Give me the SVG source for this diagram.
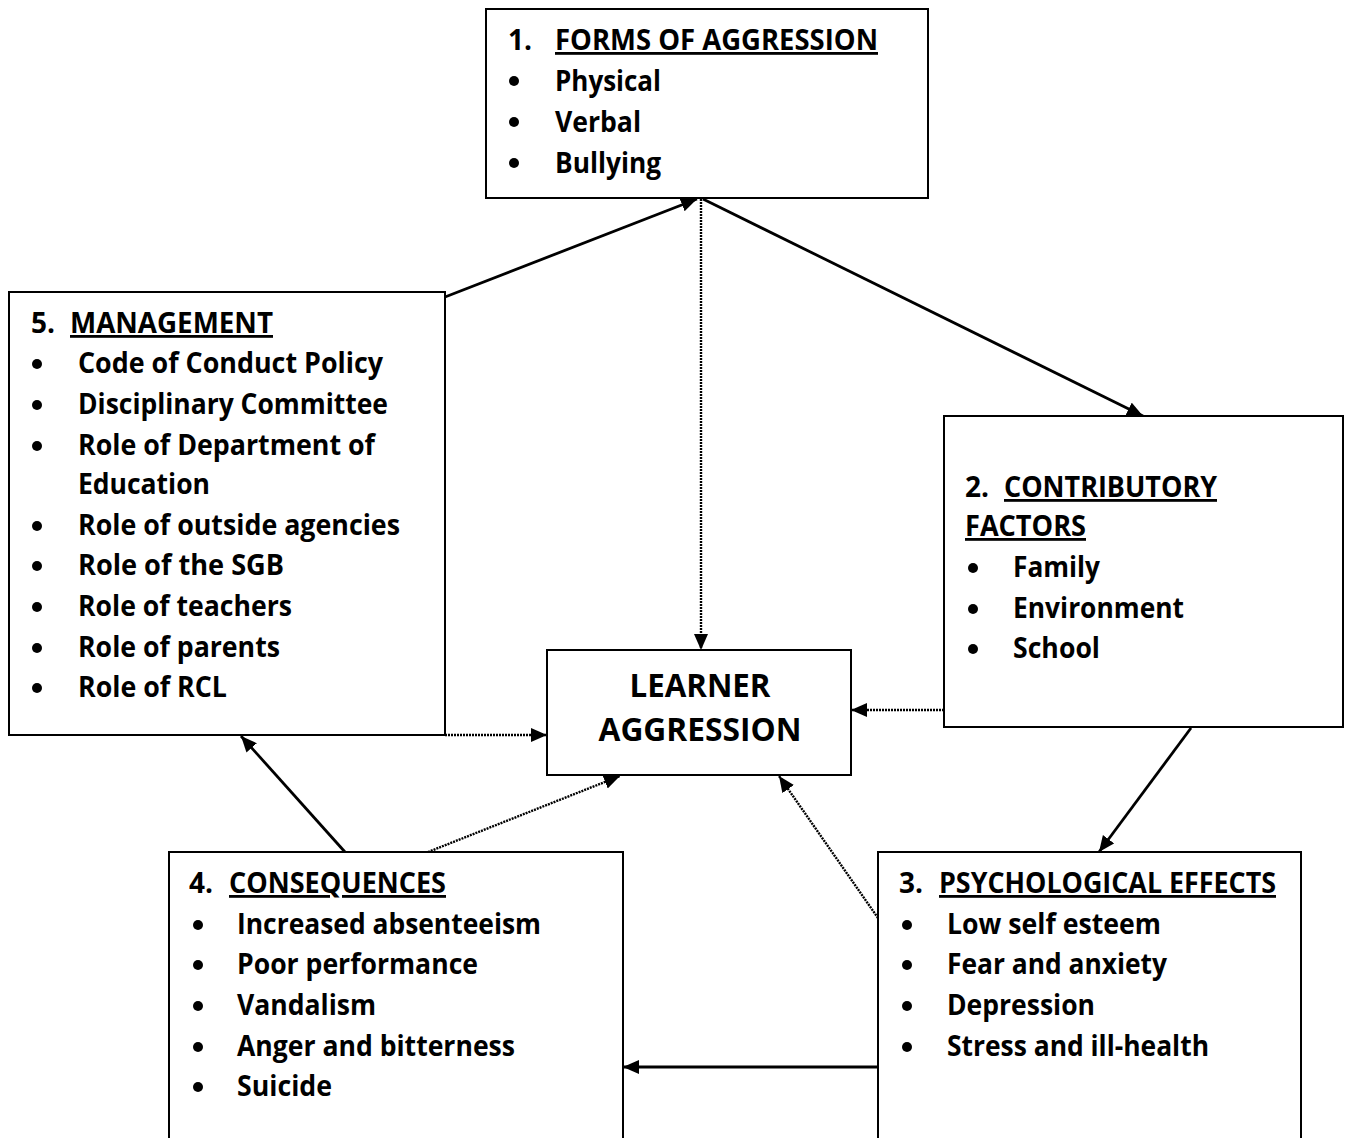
<svg xmlns="http://www.w3.org/2000/svg" width="1351" height="1138" viewBox="0 0 1351 1138">
<style>
  .box{fill:#fff;stroke:#000;stroke-width:2}
  .t{font-family:"Open Sans",Lato,sans-serif;font-weight:bold;font-size:28px;fill:#000}
  .c{font-family:"Open Sans",Lato,sans-serif;font-weight:bold;font-size:32px;fill:#000;text-anchor:middle}
  .u{text-decoration:underline}
  .b{fill:#000}
  .sol{fill:none;stroke:#000;stroke-width:2.8;marker-end:url(#ah)}
  .dot{fill:none;stroke:#000;stroke-width:2.4;stroke-dasharray:2 1;marker-end:url(#ah)}
</style>
<defs>
  <marker id="ah" markerUnits="userSpaceOnUse" markerWidth="18" markerHeight="16" refX="16" refY="7" orient="auto">
    <path d="M0,0 L16,7 L0,14 z" fill="#000"/>
  </marker>
</defs>
<rect width="1351" height="1138" fill="#fff"/>

<g id="connectors">
  <line class="sol" x1="445" y1="297" x2="697" y2="199"/>
  <line class="dot" x1="701" y1="199" x2="701" y2="650"/>
  <line class="sol" x1="703" y1="199" x2="1143" y2="416"/>
  <line class="dot" x1="944" y1="710" x2="851" y2="710"/>
  <line class="sol" x1="1191" y1="728" x2="1099" y2="852"/>
  <line class="dot" x1="878" y1="918" x2="779" y2="776"/>
  <line class="sol" x1="878" y1="1067" x2="623" y2="1067"/>
  <line class="dot" x1="428" y1="852" x2="620" y2="776"/>
  <line class="sol" x1="345" y1="852" x2="241" y2="736"/>
  <line class="dot" x1="445" y1="735" x2="547" y2="735"/>
</g>

<g id="node-forms">
  <rect class="box" x="486" y="9" width="442" height="189"/>
  <text class="t" y="50"><tspan x="508">1.</tspan><tspan x="555" class="u" textLength="323" lengthAdjust="spacingAndGlyphs">FORMS OF AGGRESSION</tspan></text>
  <circle class="b" cx="514" cy="81" r="5"/>
  <text class="t" x="555" y="91" textLength="106" lengthAdjust="spacingAndGlyphs">Physical</text>
  <circle class="b" cx="514" cy="122" r="5"/>
  <text class="t" x="555" y="132" textLength="86" lengthAdjust="spacingAndGlyphs">Verbal</text>
  <circle class="b" cx="514" cy="163" r="5"/>
  <text class="t" x="555" y="173" textLength="106" lengthAdjust="spacingAndGlyphs">Bullying</text>
</g>

<g id="node-management">
  <rect class="box" x="9" y="292" width="436" height="443"/>
  <text class="t" y="333"><tspan x="31">5.</tspan><tspan x="70" class="u" textLength="203" lengthAdjust="spacingAndGlyphs">MANAGEMENT</tspan></text>
  <circle class="b" cx="37" cy="364" r="5"/>
  <text class="t" x="78" y="373" textLength="305" lengthAdjust="spacingAndGlyphs">Code of Conduct Policy</text>
  <circle class="b" cx="37" cy="405" r="5"/>
  <text class="t" x="78" y="414" textLength="310" lengthAdjust="spacingAndGlyphs">Disciplinary Committee</text>
  <circle class="b" cx="37" cy="446" r="5"/>
  <text class="t" x="78" y="455" textLength="297" lengthAdjust="spacingAndGlyphs">Role of Department of</text>
  <text class="t" x="78" y="494" textLength="132" lengthAdjust="spacingAndGlyphs">Education</text>
  <circle class="b" cx="37" cy="526" r="5"/>
  <text class="t" x="78" y="535" textLength="322" lengthAdjust="spacingAndGlyphs">Role of outside agencies</text>
  <circle class="b" cx="37" cy="566" r="5"/>
  <text class="t" x="78" y="575" textLength="206" lengthAdjust="spacingAndGlyphs">Role of the SGB</text>
  <circle class="b" cx="37" cy="607" r="5"/>
  <text class="t" x="78" y="616" textLength="214" lengthAdjust="spacingAndGlyphs">Role of teachers</text>
  <circle class="b" cx="37" cy="648" r="5"/>
  <text class="t" x="78" y="657" textLength="202" lengthAdjust="spacingAndGlyphs">Role of parents</text>
  <circle class="b" cx="37" cy="688" r="5"/>
  <text class="t" x="78" y="697" textLength="149" lengthAdjust="spacingAndGlyphs">Role of RCL</text>
</g>

<g id="node-contributory">
  <rect class="box" x="944" y="416" width="399" height="311"/>
  <text class="t" y="497"><tspan x="965">2.</tspan><tspan x="1004" class="u" textLength="213" lengthAdjust="spacingAndGlyphs">CONTRIBUTORY</tspan></text>
  <text class="t u" x="965" y="536" textLength="121" lengthAdjust="spacingAndGlyphs">FACTORS</text>
  <circle class="b" cx="973" cy="568" r="5"/>
  <text class="t" x="1013" y="577" textLength="87" lengthAdjust="spacingAndGlyphs">Family</text>
  <circle class="b" cx="973" cy="609" r="5"/>
  <text class="t" x="1013" y="618" textLength="171" lengthAdjust="spacingAndGlyphs">Environment</text>
  <circle class="b" cx="973" cy="649" r="5"/>
  <text class="t" x="1013" y="658" textLength="87" lengthAdjust="spacingAndGlyphs">School</text>
</g>

<g id="node-learner">
  <rect class="box" x="547" y="650" width="304" height="125"/>
  <text class="c" x="700" y="697" textLength="141" lengthAdjust="spacingAndGlyphs">LEARNER</text>
  <text class="c" x="700" y="741" textLength="203" lengthAdjust="spacingAndGlyphs">AGGRESSION</text>
</g>

<g id="node-consequences">
  <rect class="box" x="169" y="852" width="454" height="300"/>
  <text class="t" y="893"><tspan x="189">4.</tspan><tspan x="229" class="u" textLength="217" lengthAdjust="spacingAndGlyphs">CONSEQUENCES</tspan></text>
  <circle class="b" cx="198" cy="925" r="5"/>
  <text class="t" x="237" y="934" textLength="304" lengthAdjust="spacingAndGlyphs">Increased absenteeism</text>
  <circle class="b" cx="198" cy="965" r="5"/>
  <text class="t" x="237" y="974" textLength="241" lengthAdjust="spacingAndGlyphs">Poor performance</text>
  <circle class="b" cx="198" cy="1006" r="5"/>
  <text class="t" x="237" y="1015" textLength="139" lengthAdjust="spacingAndGlyphs">Vandalism</text>
  <circle class="b" cx="198" cy="1047" r="5"/>
  <text class="t" x="237" y="1056" textLength="278" lengthAdjust="spacingAndGlyphs">Anger and bitterness</text>
  <circle class="b" cx="198" cy="1087" r="5"/>
  <text class="t" x="237" y="1096" textLength="95" lengthAdjust="spacingAndGlyphs">Suicide</text>
</g>

<g id="node-psychological">
  <rect class="box" x="878" y="852" width="423" height="300"/>
  <text class="t" y="893"><tspan x="899">3.</tspan><tspan x="939" class="u" textLength="337" lengthAdjust="spacingAndGlyphs">PSYCHOLOGICAL EFFECTS</tspan></text>
  <circle class="b" cx="907" cy="925" r="5"/>
  <text class="t" x="947" y="934" textLength="214" lengthAdjust="spacingAndGlyphs">Low self esteem</text>
  <circle class="b" cx="907" cy="965" r="5"/>
  <text class="t" x="947" y="974" textLength="220" lengthAdjust="spacingAndGlyphs">Fear and anxiety</text>
  <circle class="b" cx="907" cy="1006" r="5"/>
  <text class="t" x="947" y="1015" textLength="148" lengthAdjust="spacingAndGlyphs">Depression</text>
  <circle class="b" cx="907" cy="1047" r="5"/>
  <text class="t" x="947" y="1056" textLength="262" lengthAdjust="spacingAndGlyphs">Stress and ill-health</text>
</g>
</svg>
